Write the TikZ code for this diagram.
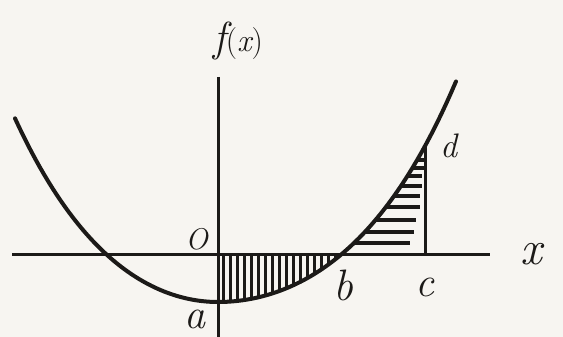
\documentclass[tikz,border=0pt]{standalone}
\usetikzlibrary{positioning}

\definecolor{paper}{RGB}{247,245,241}
\definecolor{ink}{RGB}{28,26,24}

% the bowl-shaped curve, used for drawing and for clipping
\newcommand{\bowlcurve}{plot[domain=15:218, samples=50] (\x, {lbow((\x-218)/100)}) -- plot[domain=218:456, samples=50] (\x, {rbow((\x-218)/100)})}

\begin{document}
\begin{tikzpicture}[
		x=1pt, y=-1pt,
		declare function={lbow(\t)=302-35.5*\t*\t-2.2*\t*\t*\t*\t;
			rbow(\t)=302-28.47*\t*\t-1.85*\t*\t*\t*\t;},
		axis/.style={draw=ink, line width=3pt},
		curve/.style={draw=ink, line width=4pt, line cap=round, line join=round},
		hatch/.style={draw=ink, line width=3pt},
		lbl/.style={text=ink, inner sep=0pt, font=\itshape}
		]
		
		% paper
		\fill[paper] (0,0) rectangle (563,337);
		\useasboundingbox (0,0) rectangle (563,337);
		
		% points on the axes
		\coordinate (xl) at (12,254);
		\coordinate (xr) at (490,254);
		\coordinate (yt) at (218,77);
		\coordinate (yb) at (218,337);
		\coordinate (O) at (218,254);
		\coordinate (a) at (218,302);
		\coordinate (b) at (343,254);
		\coordinate (c) at (425,254);
		\coordinate (d) at (425,146);
		
		% vertical hatching between O and b
		\begin{scope}
			\clip (O) rectangle (343,337);
			\clip \bowlcurve -- (456,0) -- (15,0) -- cycle;
			\foreach \h in {223,230,...,341}
				\draw[hatch] (\h,254) -- (\h,337);
		\end{scope}
		
		% horizontal hatching between b and c
		\begin{scope}
			\clip (343,146) rectangle (425,250);
			\clip \bowlcurve -- (456,337) -- (15,337) -- cycle;
			\foreach \v/\e in {160/425,168/425,176/422,186/422,196/420,207/420,220/416,232/414,243/410}
				\draw[hatch, line width=3.4pt] (340,\v) -- (\e,\v);
		\end{scope}
		
		% axes
		\draw[axis] (xl) -- (xr);
		\draw[axis] (yt) -- (yb);
		\draw[axis] (c) -- (d);
		
		% the curve
		\draw[curve] \bowlcurve;
		
		% labels
		\node[lbl, above=17pt of yt, xshift=20pt] (fxlbl)
			{\fontsize{42}{42}\selectfont f\fontsize{32}{32}\selectfont\upshape(\itshape x\upshape)};
		\node[lbl, right=30pt of xr, font=\itshape\fontsize{48}{48}\selectfont] (xlbl) {x};
		\node[lbl, above left=4pt and 10pt of O, font=\itshape\fontsize{30}{30}\selectfont] (Olbl) {O};
		\node[lbl, below left=8pt and 12pt of a, font=\itshape\fontsize{42}{42}\selectfont] (albl) {a};
		\node[lbl, below=16pt of b, font=\itshape\fontsize{44}{44}\selectfont] (blbl) {b};
		\node[lbl, below=24pt of c, font=\itshape\fontsize{42}{42}\selectfont] (clbl) {c};
		\node[lbl, right=15pt of d, font=\itshape\fontsize{34}{34}\selectfont] (dlbl) {d};
		
	\end{tikzpicture}
\end{document}
